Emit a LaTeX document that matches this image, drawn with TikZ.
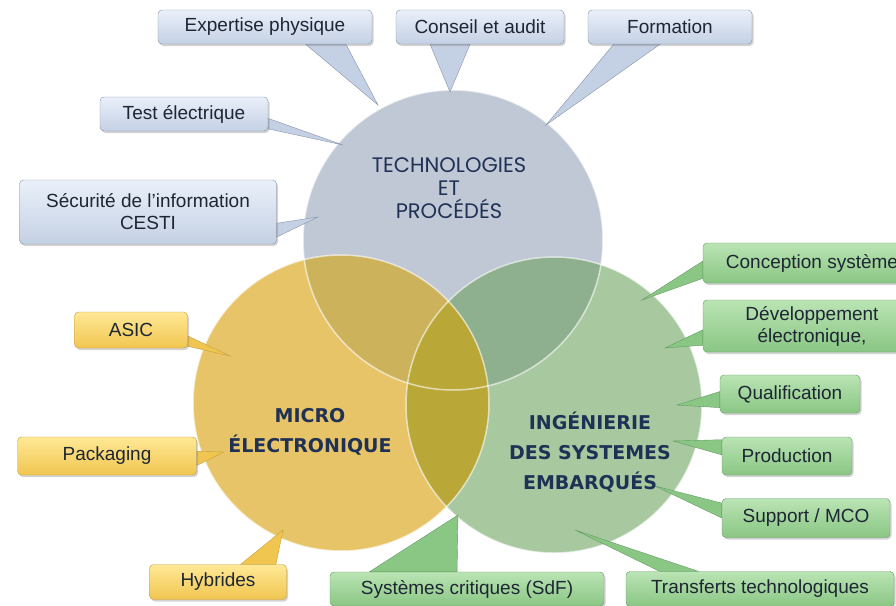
\documentclass[tikz,border=0pt]{standalone}
\usepackage{fontspec}
\setmainfont{Liberation Sans}
\newfontfamily\circlefont{Poppins}
\newfontfamily\domainfont{DejaVu Sans}
\usetikzlibrary{shadows}

\definecolor{techfill}{RGB}{192,200,214}
\definecolor{microfill}{RGB}{232,196,104}
\definecolor{embedfill}{RGB}{168,200,160}
\definecolor{microtech}{RGB}{205,178,92}
\definecolor{embedtech}{RGB}{142,176,142}
\definecolor{microembed}{RGB}{185,168,55}
\definecolor{titleblue}{RGB}{31,50,85}
\definecolor{boxtext}{RGB}{30,38,52}
\definecolor{bluetop}{RGB}{234,240,250}
\definecolor{bluebot}{RGB}{196,208,228}
\definecolor{blueedge}{RGB}{135,146,166}
\definecolor{yellowtop}{RGB}{255,232,150}
\definecolor{yellowbot}{RGB}{240,198,80}
\definecolor{yellowedge}{RGB}{196,158,60}
\definecolor{greentop}{RGB}{186,228,180}
\definecolor{greenbot}{RGB}{138,198,132}
\definecolor{greenedge}{RGB}{98,156,98}

\pgfdeclarelayer{circles}
\pgfdeclarelayer{tips}
\pgfsetlayers{circles,tips,main}

\begin{document}
\begin{tikzpicture}[x=1pt, y=-1pt,
  callout/.style={rounded corners=4pt, align=center, text=boxtext, inner sep=2pt,
    font=\fontsize{19}{22}\selectfont,
    drop shadow={opacity=0.35, shadow xshift=1.5pt, shadow yshift=-2pt}},
  blue box/.style={callout, top color=bluetop, bottom color=bluebot, draw=blueedge},
  yellow box/.style={callout, top color=yellowtop, bottom color=yellowbot, draw=yellowedge},
  green box/.style={callout, top color=greentop, bottom color=greenbot, draw=greenedge},
  blue tip/.style={fill=bluebot, draw=blueedge, line width=0.4pt},
  yellow tip/.style={fill=yellowbot, draw=yellowedge, line width=0.4pt},
  green tip/.style={fill=greenbot, draw=greenedge, line width=0.4pt},
  title/.style={text=titleblue, align=center}]
\useasboundingbox (0,0) rectangle (896,605);

\coordinate (tech) at (453,240);
\coordinate (micro) at (341,403);
\coordinate (embed) at (554,405);

% the three domains and their overlaps
\begin{pgfonlayer}{circles}
  \fill[techfill] (tech) circle (150pt);
  \fill[microfill] (micro) circle (148pt);
  \fill[embedfill] (embed) circle (148pt);
  \begin{scope}
    \clip (embed) circle (148pt);
    \fill[embedtech] (tech) circle (150pt);
  \end{scope}
  \begin{scope}
    \clip (micro) circle (148pt);
    \fill[microtech] (tech) circle (150pt);
    \fill[microembed] (embed) circle (148pt);
  \end{scope}
  \foreach \c/\r in {tech/150,micro/148,embed/148}
    \draw[white, opacity=0.6, line width=1.5pt] (\c) circle (\r pt);
\end{pgfonlayer}

\node[title, font=\circlefont\fontsize{21}{23}\selectfont] (techlbl) at (449,188) {TECHNOLOGIES\\ET\\PROCÉDÉS};
\node[title, font=\domainfont\bfseries\fontsize{19}{30}\selectfont] (microlbl) at (310,432) {MICRO\\ÉLECTRONIQUE};
\node[title, font=\domainfont\bfseries\fontsize{19}{30}\selectfont] (embedlbl) at (590,452) {INGÉNIERIE\\DES SYSTEMES\\EMBARQUÉS};

% callouts: name/x/y/width/height/text/wedge from angle a to angle b/tip x/tip y
\foreach \n/\x/\y/\w/\h/\txt/\a/\b/\tx/\ty in {
    ep/265/27/214/34/{Expertise physique}/-23/-12/378/105,
    ca/480/27/168/34/{Conseil et audit}/-161/-120/450/92,
    fo/670/27/164/34/{Formation}/-163/-120/546/125,
    te/184/114/168/34/{Test électrique}/-3/-10/343/145,
    si/148/212/257/64/{Sécurité de l’information\\CESTI}/-5/-11/318/217} {
  \node[blue box, minimum width=\w pt, minimum height=\h pt] (\n) at (\x,\y) {\txt};
  \coordinate (\n-tip) at (\tx,\ty);
  \begin{pgfonlayer}{tips}
    \filldraw[blue tip] (\n.\a) -- (\n-tip) -- (\n.\b) -- cycle;
  \end{pgfonlayer}
}

\foreach \n/\x/\y/\w/\h/\txt/\a/\b/\tx/\ty in {
    asic/131/330/113/36/{ASIC}/-6/-16/230/356,
    pack/107/456/179/38/{Packaging}/3/-6/224/452,
    hyb/218/582/137/35/{Hybrides}/38/17/283/530} {
  \node[yellow box, minimum width=\w pt, minimum height=\h pt] (\n) at (\x,\y) {\txt};
  \coordinate (\n-tip) at (\tx,\ty);
  \begin{pgfonlayer}{tips}
    \filldraw[yellow tip] (\n.\a) -- (\n-tip) -- (\n.\b) -- cycle;
  \end{pgfonlayer}
}

\foreach \n/\x/\y/\w/\h/\txt/\a/\b/\tx/\ty in {
    cs/812/263/218/40/{Conception système}/179/-172/642/300,
    de/812/326/218/52/{Développement\\électronique,}/-178/-170/665/348,
    qu/790/394/140/38/{Qualification}/178/-169/677/405,
    pr/787/456/130/38/{Production}/166/179/673/441,
    su/806/518/168/39/{Support / MCO}/170/180/655/486,
    sc/467/589/274/34/{Systèmes critiques (SdF)}/170/120/458/515,
    tt/760/589/268/35/{Transferts technologiques}/170/164/575/530} {
  \node[green box, minimum width=\w pt, minimum height=\h pt] (\n) at (\x,\y) {\txt};
  \coordinate (\n-tip) at (\tx,\ty);
  \begin{pgfonlayer}{tips}
    \filldraw[green tip] (\n.\a) -- (\n-tip) -- (\n.\b) -- cycle;
  \end{pgfonlayer}
}
\end{tikzpicture}
\end{document}
